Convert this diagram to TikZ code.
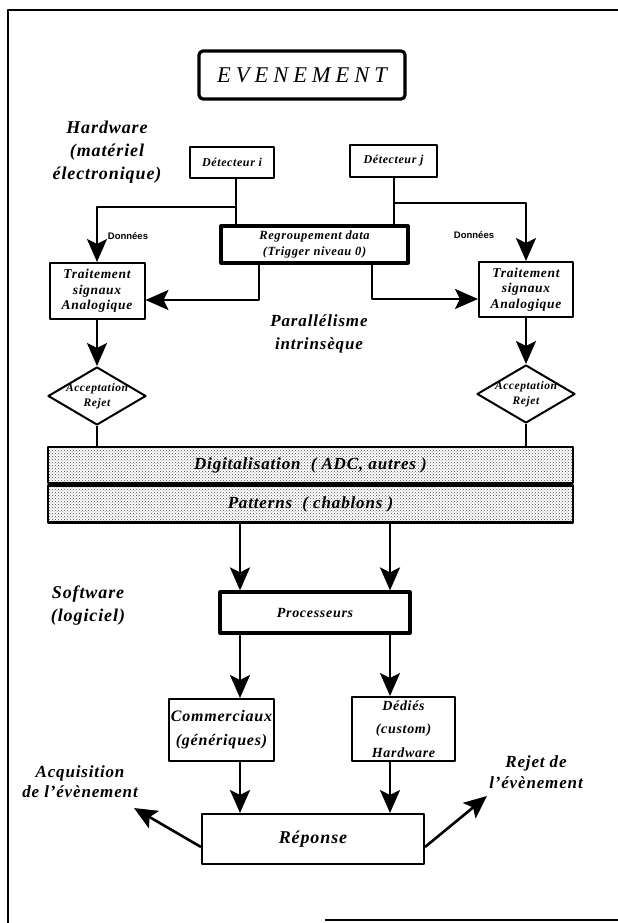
\documentclass[tikz,border=0pt]{standalone}
\usepackage{fontspec}
\setmainfont{Liberation Serif}[LetterSpace=5]
\newfontfamily\donneesfont{Liberation Sans}
\usetikzlibrary{shapes.geometric,arrows.meta,patterns}
\newcommand{\bi}[2]{\fontsize{#1}{#2}\selectfont\bfseries\itshape}
\begin{document}
\begin{tikzpicture}[x=1pt, y=-1pt, line join=round,
		bx/.style={draw, line width=2pt, inner sep=0pt, align=center, font=\bi{13.5}{15.5}},
		bigbx/.style={bx, line width=3.2pt},
		band/.style={draw, line width=2.6pt, pattern=crosshatch dots, pattern color=black!70, inner sep=0pt, minimum width=525pt, font=\bi{17}{18}},
		decision/.style={draw, diamond, line width=2pt, inner sep=0pt, minimum width=98pt, minimum height=58pt},
		txt/.style={align=center, font=\bi{18}{23}},
		fl/.style={line width=2.2pt},
		arr/.style={-{Stealth[length=23pt,width=20pt,inset=5pt]}, line width=2.6pt}]
	\useasboundingbox (0,0) rectangle (618,923);
	% cadre
	\draw[line width=1.3pt] (618,10) -- (8,10) -- (8,923);
	\draw[line width=2.5pt] (325,920) -- (618,920);
	% evenement
	\node[draw, line width=3.2pt, rounded corners=4pt, minimum width=206pt, minimum height=48pt, inner sep=0pt,
		font=\fontsize{22.5}{24}\selectfont\itshape\addfontfeature{LetterSpace=22}] (event) at (302,75) {EVENEMENT};
	\node[txt] (hw) at (107,152) {Hardware\\(mat\'eriel\\\'electronique)};
	% detecteurs
	\node[bx, minimum width=84pt, minimum height=31pt, font=\bi{12}{15}] (deti) at (232,162.5) {D\'etecteur i};
	\node[bx, minimum width=87pt, minimum height=32pt, font=\bi{12}{15}] (detj) at (393.5,161) {D\'etecteur j};
	\node[bigbx, minimum width=187pt, minimum height=37pt, font=\bi{12.5}{16}] (regroup) at (314.5,244.5) {Regroupement data\\(Trigger niveau 0)};
	\node[bx, minimum width=95pt, minimum height=56pt] (trl) at (97,291) {Traitement\\signaux\\Analogique};
	\node[bx, minimum width=94pt, minimum height=55pt] (trr) at (526,289.5) {Traitement\\signaux\\Analogique};
	\node[font=\fontsize{9.5}{10}\selectfont\donneesfont\bfseries] (donl) at (128,236) {Donn\'ees};
	\node[font=\fontsize{9.5}{10}\selectfont\donneesfont\bfseries] (donr) at (474,235) {Donn\'ees};
	\node[txt, font=\bi{17}{23}] (para) at (319,334) {Parall\'elisme\\intrins\`eque};
	% acceptation
	\node[decision] (accl) at (97,396) {};
	\node[decision] (accr) at (526,394) {};
	\node[align=center, font=\bi{11.5}{15}] (accltxt) at (accl) {Acceptation\\Rejet};
	\node[align=center, font=\bi{11.5}{15}] (accrtxt) at (accr) {Acceptation\\Rejet};
	% bandes
	\node[band, minimum height=36pt] (digit) at (310.5,465) {Digitalisation\ \ ( ADC, autres )};
	\node[band, minimum height=37pt, anchor=north] (pattern) at (digit.south) {Patterns\ \ ( chablons )};
	% software
	\node[txt] (sw) at (88,606) {Software\\(logiciel)};
	\node[bigbx, minimum width=190pt, minimum height=41pt, font=\bi{14}{16}] (proc) at (315,612.5) {Processeurs};
	\node[bx, minimum width=105pt, minimum height=62pt, font=\bi{16}{24}] (comm) at (221.5,730) {Commerciaux\\(g\'en\'eriques)};
	\node[bx, minimum width=103pt, minimum height=64pt, font=\bi{14}{23.5}] (dedie) at (403.5,729) {D\'edi\'es\\(custom)\\Hardware};
	\node[bx, minimum width=222pt, minimum height=50pt, font=\bi{18}{18}] (rep) at (313,839) {R\'eponse};
	\node[txt, font=\bi{17}{20}] (acq) at (80,782) {Acquisition\\de l'\'ev\`enement};
	\node[txt, font=\bi{17}{21}] (rej) at (536,772) {Rejet de\\l'\'ev\`enement};
	% points de passage
	\coordinate (ki) at (236,207);
	\coordinate (kj) at (394,203);
	\coordinate (ri) at (259,300);
	\coordinate (rj) at (372,299);
	\coordinate (pl) at (240,0);
	\coordinate (pr) at (390,0);
	\coordinate (acqend) at (134,808);
	\coordinate (rejend) at (487,796);
	% liaisons
	\draw[fl] (deti.south -| ki) -- (regroup.north -| ki);
	\draw[fl] (detj.south -| kj) -- (regroup.north -| kj);
	\draw[arr] (ki) -| (trl.north);
	\draw[arr] (kj) -| (trr.north);
	\draw[arr] (regroup.south -| ri) |- (trl.east |- ri);
	\draw[arr] (regroup.south -| rj) |- (trr.west |- rj);
	\draw[arr] (trl) -- (accl);
	\draw[arr] (trr) -- (accr);
	\draw[fl] (accl.south) -- (accl.south |- digit.north);
	\draw[fl] (accr.south) -- (accr.south |- digit.north);
	\draw[arr] (pattern.south -| pl) -- (proc.north -| pl);
	\draw[arr] (pattern.south -| pr) -- (proc.north -| pr);
	\draw[arr] (proc.south -| pl) -- (comm.north -| pl);
	\draw[arr] (proc.south -| pr) -- (dedie.north -| pr);
	\draw[arr] (comm.south -| pl) -- (rep.north -| pl);
	\draw[arr] (dedie.south -| pr) -- (rep.north -| pr);
	\draw[arr] ([yshift=-8pt]rep.west) -- (acqend);
	\draw[arr] ([yshift=-8pt]rep.east) -- (rejend);
\end{tikzpicture}
\end{document}
